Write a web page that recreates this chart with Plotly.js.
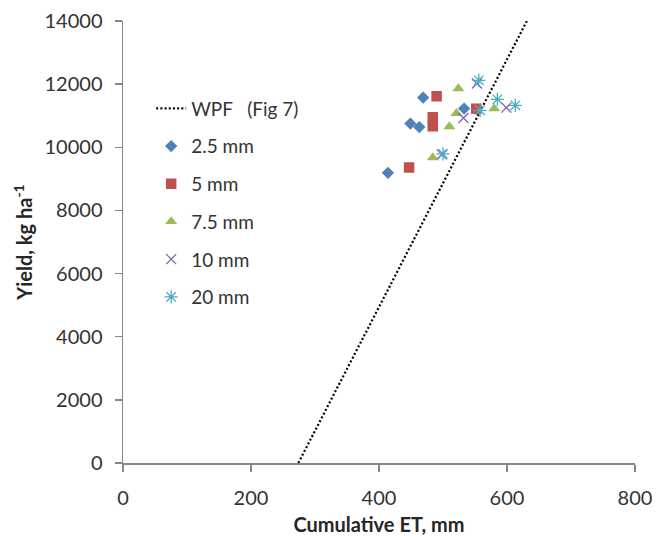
<!DOCTYPE html>
<html>
<head>
<meta charset="utf-8">
<script src="https://cdn.plot.ly/plotly-3.0.1.min.js"></script>
<style>
  html, body { margin: 0; padding: 0; background: #fff; }
  #chart { width: 666px; height: 536px; }
</style>
</head>
<body>
<div id="chart"></div>
<script>
// Water production function line (Fig 7)
const wpfET = [274, 631];
const wpfYield = [0, 14000];

// Cumulative ET (mm) and grain yield (kg/ha) by irrigation depth
const et25 = [414, 449, 463, 469, 533];
const yield25 = [9190, 10750, 10640, 11575, 11225];

const et5 = [447, 484, 484, 490, 552];
const yield5 = [9360, 10950, 10665, 11616, 11222];

const et75 = [484, 510, 521, 524, 580];
const yield75 = [9675, 10656, 11077, 11860, 11226];

const et10 = [498, 532, 553, 599];
const yield10 = [9775, 10930, 12018, 11257];

const et20 = [500, 556, 558, 585, 613];
const yield20 = [9790, 12122, 11172, 11520, 11330];

const seriesNames = ['WPF\u00a0\u00a0\u00a0(Fig 7)', '2.5 mm', '5 mm', '7.5 mm', '10 mm', '20 mm'];

const FONT = 'Lato, "Liberation Sans", sans-serif';
const TXT = '#333333';
const AXIS = '#868686';

const traces = [
  {
    x: wpfET, y: wpfYield, name: seriesNames[0], type: 'scatter', mode: 'lines',
    line: { color: '#000000', width: 2.2, dash: '2px,2.2px' }, legendgroup: 'g0'
  },
  {
    x: et25, y: yield25, name: seriesNames[1], type: 'scatter', mode: 'markers',
    marker: { symbol: 'diamond', size: 9.5, color: '#4F81BD' }, legendgroup: 'g1'
  },
  {
    x: et5, y: yield5, name: seriesNames[2], type: 'scatter', mode: 'markers',
    marker: { symbol: 'square', size: 10.5, color: '#C0504D' }, legendgroup: 'g2'
  },
  {
    x: et75, y: yield75, name: seriesNames[3], type: 'scatter', mode: 'markers',
    marker: { symbol: 'triangle-up', size: 10.5, color: '#9BBB59' }, legendgroup: 'g3'
  },
  {
    x: et10, y: yield10, name: seriesNames[4], type: 'scatter', mode: 'markers',
    marker: { symbol: 'x-thin-open', size: 10, color: '#8064A2', line: { color: '#8064A2', width: 1.3 } }, legendgroup: 'g4'
  },
  {
    x: et20, y: yield20, name: seriesNames[5], type: 'scatter', mode: 'markers',
    marker: { symbol: 'asterisk-open', size: 11, color: '#4BACC6', line: { color: '#4BACC6', width: 1.3 } }, legendgroup: 'g5'
  }
];

const layout = {
  width: 666, height: 536,
  margin: { l: 123, r: 31, t: 21, b: 73 },
  paper_bgcolor: '#ffffff', plot_bgcolor: '#ffffff',
  font: { family: FONT, size: 20, color: TXT },
  showlegend: true,
  legend: {
    x: 0.055, y: 0.845, xanchor: 'left', yanchor: 'top',
    bgcolor: 'rgba(0,0,0,0)', font: { family: FONT, size: 19, color: TXT },
    traceorder: 'grouped', tracegroupgap: 10
  },
  xaxis: {
    range: [0, 800], dtick: 200, tick0: 0,
    showgrid: false, zeroline: false, showline: true,
    linecolor: AXIS, linewidth: 1.5,
    ticks: 'outside', ticklen: 7, tickcolor: AXIS, tickwidth: 1.3,
    ticklabelstandoff: 9,
    tickfont: { family: FONT, size: 20, color: TXT },
    title: { text: '<b>Cumulative ET, mm</b>', font: { family: FONT, size: 20, color: '#262626' }, standoff: 12 }
  },
  yaxis: {
    range: [0, 14000], dtick: 2000, tick0: 0, tickformat: 'd',
    showgrid: false, zeroline: false, showline: true,
    linecolor: AXIS, linewidth: 1.5,
    ticks: 'outside', ticklen: 7, tickcolor: AXIS, tickwidth: 1.3,
    ticklabelstandoff: 8,
    tickfont: { family: FONT, size: 20, color: TXT },
    title: { text: '<b>Yield, kg ha<sup>-1</sup></b>', font: { family: FONT, size: 20, color: '#262626' }, standoff: 6 }
  }
};

Plotly.newPlot('chart', traces, layout, { displayModeBar: false, staticPlot: true });
</script>
</body>
</html>
